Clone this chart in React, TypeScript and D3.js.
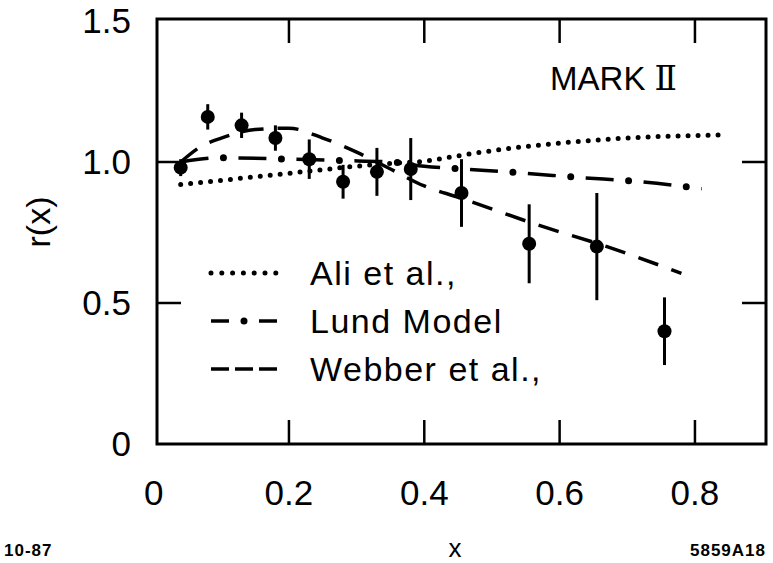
import React from "react";
import * as d3 from "d3";

const W = 773;
const H = 563;

// axis ticks
const xTicks = [0, 0.2, 0.4, 0.6, 0.8];
const xTickLabels = ["0", "0.2", "0.4", "0.6", "0.8"];
const yTicks = [0, 0.5, 1.0, 1.5];
const yTickLabels = ["0", "0.5", "1.0", "1.5"];

// measured points r(x) with error bars
const dataX = [0.04, 0.08, 0.13, 0.18, 0.23, 0.28, 0.33, 0.38, 0.455, 0.555, 0.655, 0.755];
const dataY = [0.98, 1.16, 1.13, 1.085, 1.01, 0.93, 0.965, 0.975, 0.89, 0.71, 0.7, 0.4];
const dataErr = [0.03, 0.045, 0.045, 0.045, 0.07, 0.06, 0.085, 0.11, 0.12, 0.14, 0.19, 0.12];

// model curves
const aliX = [0.04, 0.1, 0.2, 0.3, 0.35, 0.4, 0.45, 0.5, 0.6, 0.7, 0.84];
const aliY = [0.92, 0.935, 0.96, 0.985, 0.995, 1.003, 1.022, 1.04, 1.067, 1.085, 1.096];

const lundX = [0.04, 0.1, 0.2, 0.28, 0.35, 0.4, 0.46, 0.55, 0.63, 0.72, 0.81];
const lundY = [1.0, 1.015, 1.01, 1.005, 1.0, 0.985, 0.975, 0.96, 0.945, 0.93, 0.905];

const webberX = [0.04, 0.07, 0.1, 0.15, 0.2, 0.25, 0.3, 0.35, 0.4, 0.45, 0.57, 0.67, 0.78];
const webberY = [1.0, 1.055, 1.085, 1.115, 1.12, 1.085, 1.035, 0.975, 0.915, 0.875, 0.775, 0.7, 0.605];

const legendLabels = ["Ali et al.,", "Lund Model", "Webber et al.,"];

const FONT = "'Liberation Sans', Arial, sans-serif";

export default function App() {
  const left = 157, right = 766, top = 19, bottom = 444;
  const x = d3.scaleLinear().domain([0.005, 0.905]).range([left, right]);
  const y = d3.scaleLinear().domain([0, 1.5]).range([bottom, 21]);

  const line = d3
    .line<[number, number]>()
    .x((d) => x(d[0]))
    .y((d) => y(d[1]))
    .curve(d3.curveMonotoneX);

  const ali = line(aliX.map((v, i) => [v, aliY[i]]))!;
  const lund = line(lundX.map((v, i) => [v, lundY[i]]))!;
  const webber = line(webberX.map((v, i) => [v, webberY[i]]))!;

  const tickLen = 24;
  const legendRows = [273, 321, 369];
  const lx0 = 211, lx1 = 277;

  return (
    <svg
      width={W}
      height={H}
      style={{ position: "absolute", left: 0, top: 0, background: "#fff" }}
    >
      <rect x={0} y={0} width={W} height={H} fill="#fff" />
      {/* frame */}
      <rect x={left} y={top} width={right - left} height={bottom - top} fill="none" stroke="#000" strokeWidth={3} />
      {/* x ticks (top and bottom) */}
      {xTicks.slice(1).map((t) => (
        <g key={"xt" + t}>
          <line x1={x(t)} x2={x(t)} y1={bottom} y2={bottom - tickLen} stroke="#000" strokeWidth={2.5} />
          <line x1={x(t)} x2={x(t)} y1={top} y2={top + tickLen} stroke="#000" strokeWidth={2.5} />
        </g>
      ))}
      {/* y ticks (left and right) */}
      {yTicks.slice(1, 3).map((t) => (
        <g key={"yt" + t}>
          <line x1={left} x2={left + tickLen} y1={y(t)} y2={y(t)} stroke="#000" strokeWidth={2.5} />
          <line x1={right} x2={right - tickLen} y1={y(t)} y2={y(t)} stroke="#000" strokeWidth={2.5} />
        </g>
      ))}
      {/* tick labels */}
      {xTicks.map((t, i) => (
        <text key={"xl" + t} x={x(t)} y={505} textAnchor="middle" fontFamily={FONT} fontSize={35} fill="#000">
          {xTickLabels[i]}
        </text>
      ))}
      {yTicks.map((t, i) => (
        <text key={"yl" + t} x={131} y={y(t) + 12} textAnchor="end" fontFamily={FONT} fontSize={35} fill="#000">
          {yTickLabels[i]}
        </text>
      ))}
      {/* axis titles */}
      <text transform="translate(50,222) rotate(-90)" textAnchor="middle" fontFamily={FONT} fontSize={34} fill="#000">
        r(x)
      </text>
      <text x={455} y={557} textAnchor="middle" fontFamily={FONT} fontSize={26} fill="#000">
        x
      </text>
      <text x={4} y={556} fontFamily={FONT} fontSize={17} fontWeight="bold" letterSpacing={1} fill="#000">
        10-87
      </text>
      <text x={766} y={556} textAnchor="end" fontFamily={FONT} fontSize={17} fontWeight="bold" letterSpacing={1} fill="#000">
        5859A18
      </text>
      <text x={677} y={90} textAnchor="end" fontFamily={FONT} fontSize={33} fill="#000">
        MARK <tspan fontFamily="'DejaVu Serif', 'Liberation Serif', serif">Ⅱ</tspan>
      </text>

      {/* model curves */}
      <path d={ali} fill="none" stroke="#000" strokeWidth={5} strokeLinecap="round" strokeDasharray="0 10" />
      <path d={lund} fill="none" stroke="#000" strokeWidth={3.5} strokeDasharray="28 30" />
      <path d={lund} fill="none" stroke="#000" strokeWidth={7} strokeLinecap="round" strokeDasharray="0 58" strokeDashoffset={-43} />
      <path d={webber} fill="none" stroke="#000" strokeWidth={3.5} strokeDasharray="21 14" />

      {/* data points */}
      {dataX.map((v, i) => (
        <g key={"p" + i}>
          <line x1={x(v)} x2={x(v)} y1={y(dataY[i] - dataErr[i])} y2={y(dataY[i] + dataErr[i])} stroke="#000" strokeWidth={3} />
          <circle cx={x(v)} cy={y(dataY[i])} r={7} fill="#000" />
        </g>
      ))}

      {/* legend */}
      <line x1={lx0} x2={lx1} y1={legendRows[0]} y2={legendRows[0]} stroke="#000" strokeWidth={5} strokeLinecap="round" strokeDasharray="0 10.8" />
      <line x1={lx0} x2={lx0 + 18} y1={legendRows[1]} y2={legendRows[1]} stroke="#000" strokeWidth={3.5} />
      <circle cx={(lx0 + lx1) / 2} cy={legendRows[1]} r={3.5} fill="#000" />
      <line x1={lx1 - 18} x2={lx1} y1={legendRows[1]} y2={legendRows[1]} stroke="#000" strokeWidth={3.5} />
      <line x1={lx0} x2={lx1} y1={legendRows[2]} y2={legendRows[2]} stroke="#000" strokeWidth={3.5} strokeDasharray="18 6" />
      {legendLabels.map((s, i) => (
        <text key={s} x={310} y={legendRows[i] + 12} fontFamily={FONT} fontSize={34} letterSpacing={1.5} fill="#000">
          {s}
        </text>
      ))}
    </svg>
  );
}
